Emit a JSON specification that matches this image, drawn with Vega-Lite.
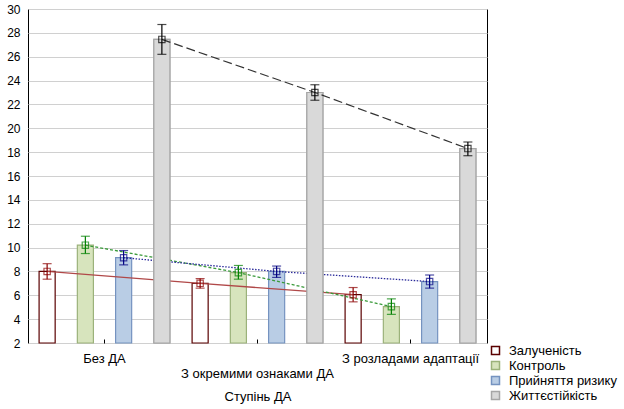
{
  "$schema": "https://vega.github.io/schema/vega-lite/v6.json",
  "width": 459,
  "height": 334,
  "autosize": {"type": "none"},
  "padding": {"left": 28, "top": 9, "right": 137, "bottom": 66},
  "background": "white",
  "config": {
    "font": "Liberation Sans",
    "view": {"stroke": "black", "strokeWidth": 1},
    "axis": {"labelFont": "Liberation Sans", "titleFont": "Liberation Sans", "labelColor": "black", "titleColor": "black", "labelFontSize": 12, "titleFontSize": 13, "titleFontWeight": "normal", "domain": false},
    "axisY": {"tickCount": 15, "labelOverlap": false, "tickSize": 0, "labelPadding": 8, "gridColor": "#d0d0d0", "grid": true, "title": null},
    "legend": {"labelFont": "Liberation Sans", "labelFontSize": 13, "labelColor": "black"}
  },
  "data": {
    "values": [
      {"cat": "Без ДА", "grp": "Залученість", "mean": 8.0, "lo": 7.35, "hi": 8.65},
      {"cat": "З окремими ознаками ДА", "grp": "Залученість", "mean": 7.0, "lo": 6.6, "hi": 7.4},
      {"cat": "З розладами адаптації", "grp": "Залученість", "mean": 6.05, "lo": 5.45, "hi": 6.65},
      {"cat": "Без ДА", "grp": "Контроль", "mean": 10.2, "lo": 9.5, "hi": 10.95},
      {"cat": "З окремими ознаками ДА", "grp": "Контроль", "mean": 7.9, "lo": 7.35, "hi": 8.5},
      {"cat": "З розладами адаптації", "grp": "Контроль", "mean": 5.05, "lo": 4.4, "hi": 5.7},
      {"cat": "Без ДА", "grp": "Прийняття ризику", "mean": 9.15, "lo": 8.55, "hi": 9.75},
      {"cat": "З окремими ознаками ДА", "grp": "Прийняття ризику", "mean": 8.0, "lo": 7.5, "hi": 8.45},
      {"cat": "З розладами адаптації", "grp": "Прийняття ризику", "mean": 7.15, "lo": 6.6, "hi": 7.7},
      {"cat": "Без ДА", "grp": "Життєстійкість", "mean": 27.45, "lo": 26.2, "hi": 28.7},
      {"cat": "З окремими ознаками ДА", "grp": "Життєстійкість", "mean": 23.0, "lo": 22.35, "hi": 23.65},
      {"cat": "З розладами адаптації", "grp": "Життєстійкість", "mean": 18.3, "lo": 17.7, "hi": 18.85}
    ]
  },
  "encoding": {
    "x": {
      "field": "cat", "type": "nominal", "sort": ["Без ДА", "З окремими ознаками ДА", "З розладами адаптації"],
      "scale": {"paddingInner": 0, "paddingOuter": 0},
      "axis": {"title": "Ступінь ДА", "labelAngle": 0, "labelFontSize": 13, "tickSize": -4, "tickColor": "black", "labelPadding": 13, "labelBaseline": "top", "labelLineHeight": 15, "titlePadding": 10, "labelOverlap": false, "labelBound": false,
        "labelExpr": "datum.label == 'З окремими ознаками ДА' ? ['', datum.label] : datum.label"}
    },
    "xOffset": {
      "field": "grp", "type": "nominal", "sort": ["Залученість", "Контроль", "Прийняття ризику", "Життєстійкість"],
      "scale": {"domain": ["Залученість", "Контроль", "Прийняття ризику", "Життєстійкість"], "paddingInner": 0.58, "paddingOuter": 0.29}
    }
  },
  "layer": [
    {
      "mark": {"type": "bar", "strokeWidth": 1.2},
      "encoding": {
        "y": {"field": "mean", "type": "quantitative", "scale": {"domain": [2, 30], "zero": false, "nice": false},
          "axis": {"title": null, "values": [2,4,6,8,10,12,14,16,18,20,22,24,26,28,30], "tickSize": 0, "labelPadding": 8, "labelOverlap": false, "gridColor": "#d0d0d0", "grid": true}},
        "y2": {"datum": 2},
        "color": {"field": "grp", "type": "nominal", "sort": ["Залученість", "Контроль", "Прийняття ризику", "Життєстійкість"],
          "scale": {"domain": ["Залученість", "Контроль", "Прийняття ризику", "Життєстійкість"], "range": ["#ffffff", "#d7e4bd", "#b9cde5", "#d9d9d9"]},
          "legend": {"title": null, "orient": "none", "legendX": 461, "legendY": 334, "symbolType": "square", "symbolSize": 64, "symbolStrokeWidth": 1.5, "rowPadding": 0, "clipHeight": 15, "labelOffset": 7}},
        "stroke": {"field": "grp", "type": "nominal", "sort": ["Залученість", "Контроль", "Прийняття ризику", "Життєстійкість"],
          "scale": {"domain": ["Залученість", "Контроль", "Прийняття ризику", "Життєстійкість"], "range": ["#5a0000", "#9bb27a", "#7593c0", "#a6a6a6"]}}
      }
    },
    {
      "transform": [{"filter": "datum.grp == 'Залученість'"}],
      "mark": {"type": "line", "color": "#b04848", "strokeWidth": 1.3},
      "encoding": {"y": {"field": "mean", "type": "quantitative", "axis": {"title": null, "values": [2,4,6,8,10,12,14,16,18,20,22,24,26,28,30], "tickSize": 0, "labelPadding": 8, "labelOverlap": false, "gridColor": "#d0d0d0", "grid": true}}}
    },
    {
      "transform": [{"filter": "datum.grp == 'Контроль'"}],
      "mark": {"type": "line", "color": "#3a9a3a", "strokeWidth": 1.3, "strokeDash": [3, 2]},
      "encoding": {"y": {"field": "mean", "type": "quantitative", "axis": {"title": null, "values": [2,4,6,8,10,12,14,16,18,20,22,24,26,28,30], "tickSize": 0, "labelPadding": 8, "labelOverlap": false, "gridColor": "#d0d0d0", "grid": true}}}
    },
    {
      "transform": [{"filter": "datum.grp == 'Прийняття ризику'"}],
      "mark": {"type": "line", "color": "#2a2a9a", "strokeWidth": 1.3, "strokeDash": [1.5, 1.5]},
      "encoding": {"y": {"field": "mean", "type": "quantitative", "axis": {"title": null, "values": [2,4,6,8,10,12,14,16,18,20,22,24,26,28,30], "tickSize": 0, "labelPadding": 8, "labelOverlap": false, "gridColor": "#d0d0d0", "grid": true}}}
    },
    {
      "transform": [{"filter": "datum.grp == 'Життєстійкість'"}],
      "mark": {"type": "bar", "strokeWidth": 1.2, "fill": "#d9d9d9", "stroke": "#a6a6a6"},
      "encoding": {"y": {"field": "mean", "type": "quantitative", "axis": {"title": null, "values": [2,4,6,8,10,12,14,16,18,20,22,24,26,28,30], "tickSize": 0, "labelPadding": 8, "labelOverlap": false, "gridColor": "#d0d0d0", "grid": true}}, "y2": {"datum": 2}}
    },
    {
      "transform": [{"filter": "datum.grp == 'Життєстійкість'"}],
      "mark": {"type": "line", "color": "#333333", "strokeWidth": 1.2, "strokeDash": [9, 4]},
      "encoding": {"y": {"field": "mean", "type": "quantitative", "axis": {"title": null, "values": [2,4,6,8,10,12,14,16,18,20,22,24,26,28,30], "tickSize": 0, "labelPadding": 8, "labelOverlap": false, "gridColor": "#d0d0d0", "grid": true}}}
    },
    {
      "mark": {"type": "rule", "strokeWidth": 1.2},
      "encoding": {
        "y": {"field": "lo", "type": "quantitative", "axis": {"title": null, "values": [2,4,6,8,10,12,14,16,18,20,22,24,26,28,30], "tickSize": 0, "labelPadding": 8, "labelOverlap": false, "gridColor": "#d0d0d0", "grid": true}}, "y2": {"field": "hi"},
        "color": {"field": "grp", "type": "nominal", "scale": {"domain": ["Залученість", "Контроль", "Прийняття ризику", "Життєстійкість"], "range": ["#8b0000", "#008000", "#000080", "#000000"]}, "legend": null}
      }
    },
    {
      "mark": {"type": "tick", "size": 9, "thickness": 1.2},
      "encoding": {
        "y": {"field": "lo", "type": "quantitative", "axis": {"title": null, "values": [2,4,6,8,10,12,14,16,18,20,22,24,26,28,30], "tickSize": 0, "labelPadding": 8, "labelOverlap": false, "gridColor": "#d0d0d0", "grid": true}},
        "color": {"field": "grp", "type": "nominal", "scale": {"domain": ["Залученість", "Контроль", "Прийняття ризику", "Життєстійкість"], "range": ["#8b0000", "#008000", "#000080", "#000000"]}, "legend": null}
      }
    },
    {
      "mark": {"type": "tick", "size": 9, "thickness": 1.2},
      "encoding": {
        "y": {"field": "hi", "type": "quantitative", "axis": {"title": null, "values": [2,4,6,8,10,12,14,16,18,20,22,24,26,28,30], "tickSize": 0, "labelPadding": 8, "labelOverlap": false, "gridColor": "#d0d0d0", "grid": true}},
        "color": {"field": "grp", "type": "nominal", "scale": {"domain": ["Залученість", "Контроль", "Прийняття ризику", "Життєстійкість"], "range": ["#8b0000", "#008000", "#000080", "#000000"]}, "legend": null}
      }
    },
    {
      "mark": {"type": "point", "shape": "square", "filled": false, "size": 40, "strokeWidth": 1.2},
      "encoding": {
        "y": {"field": "mean", "type": "quantitative", "axis": {"title": null, "values": [2,4,6,8,10,12,14,16,18,20,22,24,26,28,30], "tickSize": 0, "labelPadding": 8, "labelOverlap": false, "gridColor": "#d0d0d0", "grid": true}},
        "color": {"field": "grp", "type": "nominal", "scale": {"domain": ["Залученість", "Контроль", "Прийняття ризику", "Життєстійкість"], "range": ["#8b0000", "#008000", "#000080", "#000000"]}, "legend": null}
      }
    }
  ],
  "resolve": {"scale": {"color": "independent", "stroke": "independent"}}
}
